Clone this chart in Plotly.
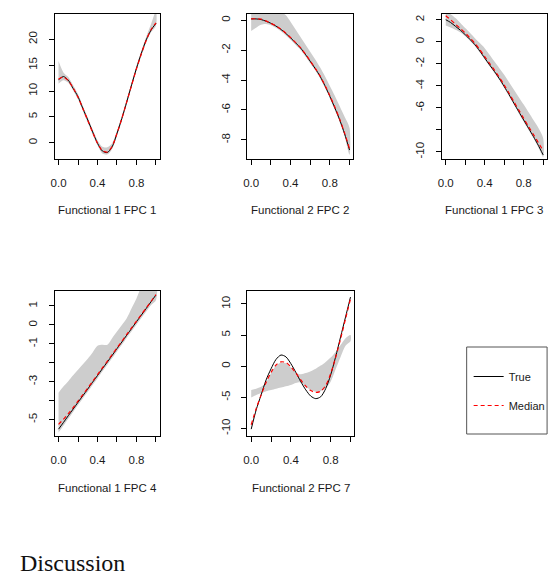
import plotly.graph_objects as go

# ---------------- data ----------------
t = [0.0, 0.05, 0.1, 0.15, 0.2, 0.25, 0.3, 0.35, 0.4, 0.45, 0.5,
     0.55, 0.6, 0.65, 0.7, 0.75, 0.8, 0.85, 0.9, 0.95, 1.0]

titles = ["Functional 1 FPC 1", "Functional 2 FPC 2", "Functional 1 FPC 3",
          "Functional 1 FPC 4", "Functional 2 FPC 7"]

true1 = [12.2, 12.8, 12.1, 10.5, 8.9, 6.6, 4.4, 2.1, -0.1, -1.6, -1.9, -0.8, 1.8, 4.7, 7.9, 11.2, 14.4, 17.3, 19.9, 21.8, 23.1]
med1 = [12.3, 12.7, 12.0, 10.6, 8.8, 6.6, 4.3, 2.0, -0.1, -1.5, -1.8, -0.7, 1.8, 4.7, 7.9, 11.1, 14.3, 17.2, 19.8, 21.9, 23.2]
upper1 = [15.8, 13.6, 12.7, 11.1, 9.4, 7.1, 4.9, 2.6, 0.5, -0.8, -0.9, -0.1, 2.3, 5.2, 8.4, 11.7, 14.9, 17.8, 20.5, 23.0, 25.5]
lower1 = [11.4, 12.1, 11.6, 10.1, 8.4, 6.1, 3.9, 1.6, -0.5, -2.1, -2.3, -1.2, 1.3, 4.2, 7.4, 10.7, 13.9, 16.8, 19.4, 21.4, 22.6]

true2 = [0.09, 0.09, 0.05, -0.06, -0.2, -0.38, -0.6, -0.87, -1.17, -1.5, -1.84, -2.27, -2.74, -3.22, -3.74, -4.38, -5.09, -5.85, -6.66, -7.6, -8.68]
med2 = [0.1, 0.1, 0.08, -0.04, -0.2, -0.37, -0.58, -0.85, -1.15, -1.48, -1.82, -2.25, -2.72, -3.2, -3.72, -4.35, -5.05, -5.8, -6.62, -7.55, -8.6]
upper2 = [0.9, 0.9, 0.9, 0.85, 0.8, 0.7, 0.55, 0.35, -0.1, -0.6, -1.1, -1.6, -2.1, -2.6, -3.15, -3.75, -4.4, -5.05, -5.75, -6.45, -7.2]
lower2 = [-0.72, -0.5, -0.3, -0.25, -0.33, -0.5, -0.72, -1.0, -1.3, -1.63, -1.97, -2.4, -2.87, -3.35, -3.88, -4.52, -5.23, -6.0, -6.82, -7.78, -9.0]

true3 = [2.0, 1.75, 1.4, 1.05, 0.64, 0.2, -0.27, -0.85, -1.48, -2.1, -2.7, -3.35, -4.06, -4.8, -5.58, -6.35, -7.1, -7.85, -8.6, -9.4, -10.27]
med3 = [2.36, 2.0, 1.6, 1.2, 0.8, 0.33, -0.15, -0.72, -1.35, -1.97, -2.58, -3.22, -3.93, -4.67, -5.45, -6.2, -6.95, -7.7, -8.42, -9.15, -9.88]
upper3 = [2.8, 2.5, 2.15, 1.7, 1.24, 0.8, 0.33, -0.12, -0.58, -1.18, -1.8, -2.4, -3.0, -3.68, -4.36, -5.03, -5.7, -6.4, -7.1, -7.8, -8.75]
lower3 = [1.48, 1.3, 1.1, 0.85, 0.5, 0.08, -0.4, -0.97, -1.6, -2.22, -2.83, -3.48, -4.2, -4.94, -5.72, -6.5, -7.25, -8.0, -8.76, -9.57, -10.45]

true4 = [-5.5, -5.15, -4.79, -4.44, -4.08, -3.73, -3.38, -3.02, -2.67, -2.31, -1.96, -1.61, -1.25, -0.9, -0.54, -0.19, 0.17, 0.52, 0.87, 1.23, 1.58]
med4 = [-5.25, -4.98, -4.68, -4.36, -4.02, -3.68, -3.33, -2.98, -2.62, -2.27, -1.92, -1.57, -1.21, -0.86, -0.5, -0.15, 0.2, 0.55, 0.9, 1.25, 1.6]
upper4 = [-3.58, -3.25, -2.97, -2.66, -2.36, -2.07, -1.78, -1.45, -1.1, -1.05, -1.05, -0.7, -0.35, 0.0, 0.35, 0.88, 1.4, 2.0, 2.3, 2.6, 2.9]
lower4 = [-5.68, -5.32, -4.95, -4.59, -4.23, -3.88, -3.53, -3.17, -2.82, -2.46, -2.11, -1.76, -1.4, -1.05, -0.69, -0.34, 0.01, 0.36, 0.71, 1.05, 1.3]

true5 = [-10.1, -7.0, -4.6, -2.2, -0.4, 1.1, 1.8, 1.5, 0.4, -1.0, -2.5, -3.8, -4.8, -5.2, -4.9, -3.6, -1.4, 1.5, 4.7, 7.9, 11.1]
med5 = [-9.4, -6.8, -4.6, -2.6, -1.0, 0.2, 0.7, 0.6, -0.1, -1.1, -2.2, -3.2, -3.9, -4.2, -4.0, -3.1, -1.2, 1.4, 4.4, 7.6, 10.8]
upper5 = [-3.8, -3.6, -3.3, -2.6, -1.1, 0.1, 0.6, 0.5, -0.2, -1.0, -1.3, -1.1, -0.8, -0.4, 0.1, 0.7, 1.4, 2.3, 3.4, 4.5, 5.0]
lower5 = [-5.0, -4.6, -4.3, -4.0, -3.8, -3.6, -3.4, -3.2, -3.0, -2.7, -2.6, -3.3, -3.8, -4.1, -4.0, -3.5, -2.5, -0.5, 1.5, 3.3, 4.0]

x_tickvals = [0.0, 0.2, 0.4, 0.6, 0.8, 1.0]
x_ticktext = ["0.0", "", "0.4", "", "0.8", ""]

y_tickvals = [
    [0, 5, 10, 15, 20],
    [0, -2, -4, -6, -8],
    [2, 0, -2, -4, -6, -8, -10],
    [1, 0, -1, -2, -3, -4, -5],
    [10, 5, 0, -5, -10],
]
y_ticktext = [
    ["0", "5", "10", "15", "20"],
    ["0", "-2", "-4", "-6", "-8"],
    ["2", "0", "-2", "-4", "-6", "", "-10"],
    ["1", "0", "-1", "", "-3", "", "-5"],
    ["10", "5", "0", "-5", "-10"],
]
y_ranges = [[-3.15, 24.9], [-9.28, 0.42], [-10.64, 2.52], [-5.86, 1.79], [-11.2, 12.08]]

series = [
    (true1, med1, upper1, lower1),
    (true2, med2, upper2, lower2),
    (true3, med3, upper3, lower3),
    (true4, med4, upper4, lower4),
    (true5, med5, upper5, lower5),
]

# ---------------- layout geometry (pixels) ----------------
W, H = 558, 578
boxes = [  # x0, x1, ytop, ybottom
    (51, 157, 14, 159),
    (245, 352, 14, 159),
    (441, 547, 14, 159),
    (51, 157, 291, 436),
    (245, 353, 291, 436),
]

GRAY = "#cdcdcd"
FONT = "Liberation Sans, Arial, Helvetica, sans-serif"
TXT = "#1a1a1a"

fig = go.Figure()
layout = {}
annotations = []

for i, ((tr, md, up, lo), box) in enumerate(zip(series, boxes)):
    n = "" if i == 0 else str(i + 1)
    xa, ya = "x" + n, "y" + n
    fig.add_trace(go.Scatter(
        x=t + t[::-1], y=up + lo[::-1], fill="toself", fillcolor=GRAY,
        mode="lines", line=dict(width=0, color=GRAY, shape="spline", smoothing=0.8),
        hoverinfo="skip", showlegend=False, xaxis=xa, yaxis=ya))
    fig.add_trace(go.Scatter(
        x=t, y=tr, mode="lines", name="True", legendgroup="true",
        line=dict(color="black", width=1, shape="spline", smoothing=0.8),
        showlegend=(i == 0), xaxis=xa, yaxis=ya))
    fig.add_trace(go.Scatter(
        x=t, y=md, mode="lines", name="Median", legendgroup="median",
        line=dict(color="#ff0000", width=1.2, dash="4px,3px", shape="spline", smoothing=0.8),
        showlegend=(i == 0), xaxis=xa, yaxis=ya))

    x0, x1, yt, yb = box
    common = dict(showline=True, mirror=True, linecolor="black", linewidth=1,
                  ticks="outside", ticklen=5, tickwidth=1, tickcolor="black",
                  showgrid=False, zeroline=False,
                  tickfont=dict(family=FONT, size=11.5, color=TXT))
    layout["xaxis" + n] = dict(domain=[x0 / W, x1 / W], range=[-0.04, 1.04],
                               anchor=ya, tickmode="array", tickvals=x_tickvals,
                               ticktext=x_ticktext, ticklabelstandoff=8, **common)
    layout["yaxis" + n] = dict(domain=[1 - yb / H, 1 - yt / H], range=y_ranges[i],
                               anchor=xa, tickmode="array", tickvals=y_tickvals[i],
                               ticktext=y_ticktext[i], tickangle=-90,
                               ticklabelstandoff=7, **common)
    title_y = 210 if i < 3 else 488
    annotations.append(dict(text=titles[i], x=(x0 + x1) / 2 / W, y=1 - title_y / H,
                            xref="paper", yref="paper", xanchor="center", yanchor="middle",
                            showarrow=False, font=dict(family=FONT, size=11.5, color=TXT)))

annotations.append(dict(text="Discussion", x=14 / W, y=0.0, xref="paper", yref="paper",
                        xanchor="left", yanchor="bottom", showarrow=False,
                        font=dict(family="Liberation Serif, DejaVu Serif, serif", size=24, color="#111")))

fig.update_layout(
    width=W, height=H, margin=dict(l=0, r=0, t=0, b=0),
    paper_bgcolor="white", plot_bgcolor="white",
    annotations=annotations,
    shapes=[dict(type="rect", xref="paper", yref="paper",
                 x0=466 / W, x1=547 / W, y0=1 - 434 / H, y1=1 - 347 / H,
                 line=dict(color="#555555", width=1))],
    legend=dict(x=468 / W, y=1 - 362 / H, xanchor="left", yanchor="top",
                bgcolor="rgba(0,0,0,0)", borderwidth=0, tracegroupgap=10,
                itemwidth=30, font=dict(family=FONT, size=11, color=TXT)),
    **layout,
)

fig.write_html("out.html")
